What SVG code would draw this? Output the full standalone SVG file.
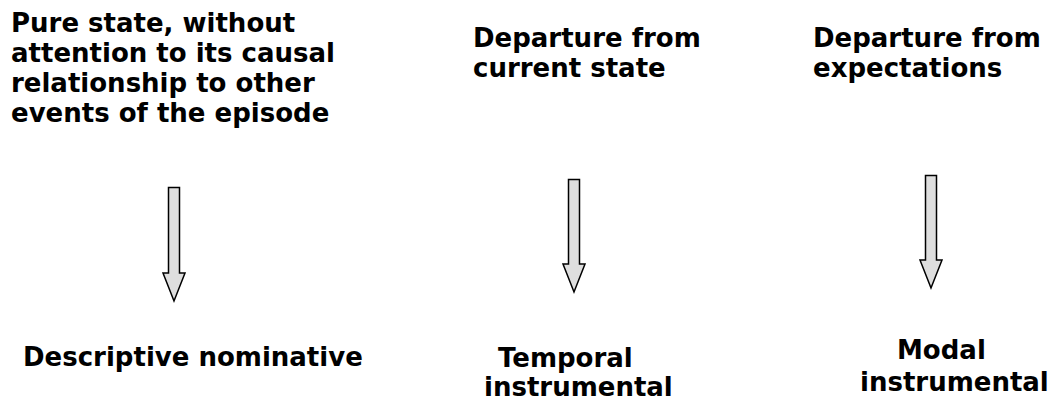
<svg xmlns="http://www.w3.org/2000/svg" width="1052" height="401" viewBox="0 0 1052 401">
<style>
text{font-family:"DejaVu Sans",Verdana,sans-serif;font-weight:bold;font-size:26px;fill:#000}
.arr{fill:#dedede;stroke:#000;stroke-width:1.5;stroke-linejoin:miter}
</style>
<rect width="1052" height="401" fill="#fff"/>
<g id="n1"><text x="11" y="32">Pure state, without</text><text x="11" y="62">attention to its causal</text><text x="11" y="92">relationship to other</text><text x="11" y="122">events of the episode</text></g>
<g id="n2"><text x="473" y="47">Departure from</text><text x="473" y="77">current state</text></g>
<g id="n3"><text x="813" y="47">Departure from</text><text x="813" y="77">expectations</text></g>
<g id="n4"><text x="23" y="366">Descriptive nominative</text></g>
<g id="n5"><text x="498" y="367">Temporal</text><text x="484" y="396">instrumental</text></g>
<g id="n6"><text x="897" y="359">Modal</text><text x="860" y="391">instrumental</text></g>
<g id="connectors">
<path class="arr" d="M168.5,187.5 H179.5 V273 H185 L174,301 L163,273 H168.5 Z"/>
<path class="arr" d="M568.5,179.5 H579.5 V264 H585 L574,292 L563,264 H568.5 Z"/>
<path class="arr" d="M925.5,175.5 H936.5 V260 H942 L931,288 L920,260 H925.5 Z"/>
</g>
</svg>
